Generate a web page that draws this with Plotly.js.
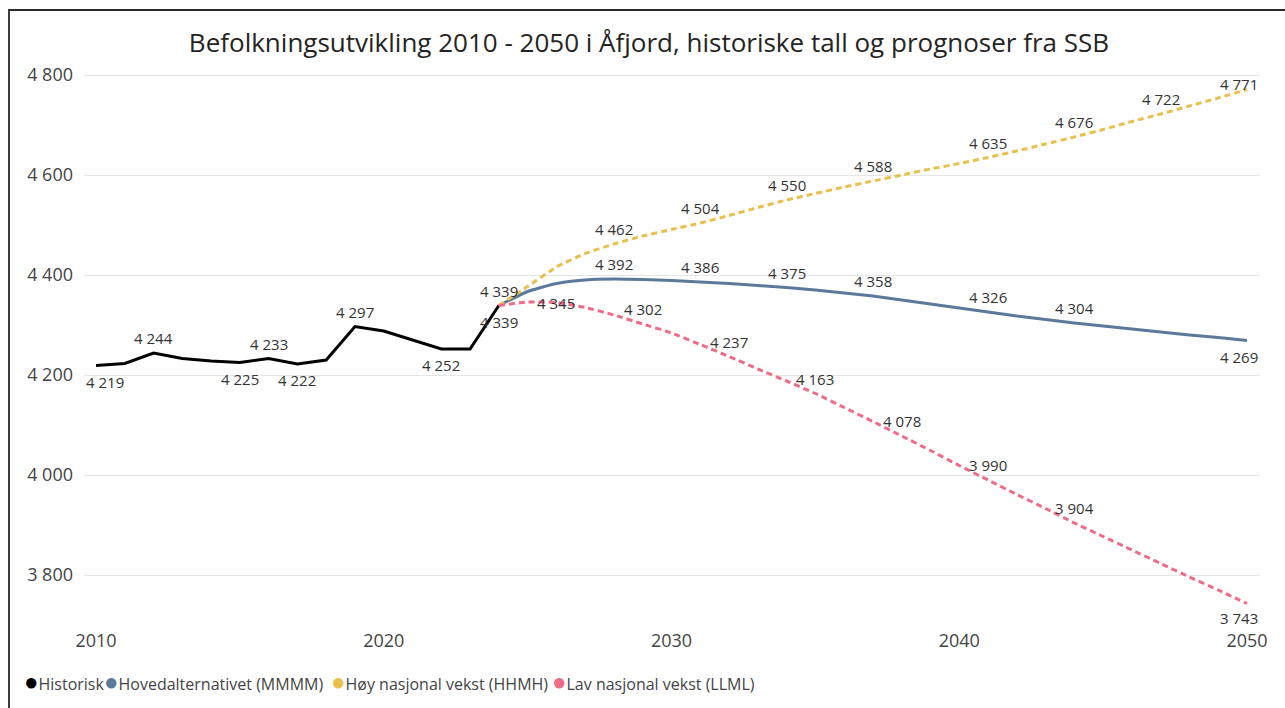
<!DOCTYPE html>
<html>
<head>
<meta charset="utf-8">
<script src="https://cdn.plot.ly/plotly-3.0.1.min.js"></script>
<style>
  html, body { margin: 0; padding: 0; background: #ffffff; }
  #chart { width: 1285px; height: 708px; position: relative; }
  #frame { position: absolute; left: 8px; top: 9px; width: 1300px; height: 720px;
           border-left: 2px solid #3c3c3c; border-top: 2px solid #2a2a2a; pointer-events: none; }
</style>
</head>
<body>
<div id="chart"></div>
<div id="frame"></div>
<script>
// ---- data ----
const titleText = 'Befolkningsutvikling 2010 - 2050 i Åfjord, historiske tall og prognoser fra SSB';
const seriesNames = ['Historisk', 'Hovedalternativet (MMMM)', 'Høy nasjonal vekst (HHMH)', 'Lav nasjonal vekst (LLML)'];

const yearsHist = [2010, 2011, 2012, 2013, 2014, 2015, 2016, 2017, 2018, 2019, 2020, 2021, 2022, 2023, 2024];
const historisk = [4219, 4223, 4244, 4233, 4228, 4225, 4233, 4222, 4230, 4297, 4288, 4270, 4252, 4252, 4339];

const yearsProg = [2024, 2025, 2026, 2027, 2028, 2029, 2030, 2031, 2032, 2033, 2034, 2035, 2036, 2037,
                   2038, 2039, 2040, 2041, 2042, 2043, 2044, 2045, 2046, 2047, 2048, 2049, 2050];
const hovedalt = [4339, 4367, 4383, 4390, 4392, 4391, 4389, 4386, 4383, 4379, 4375, 4370, 4364, 4358,
                  4350, 4342, 4334, 4326, 4318, 4311, 4304, 4298, 4292, 4286, 4280, 4275, 4269];
const hoyVekst = [4339, 4377, 4416, 4443, 4462, 4478, 4491, 4504, 4519, 4535, 4550, 4563, 4576, 4588,
                  4600, 4612, 4623, 4635, 4648, 4662, 4676, 4691, 4707, 4722, 4738, 4754, 4771];
const lavVekst = [4339, 4346, 4345, 4335, 4320, 4302, 4284, 4261, 4237, 4212, 4188, 4163, 4135, 4107,
                  4078, 4049, 4019, 3990, 3961, 3933, 3904, 3877, 3850, 3823, 3796, 3770, 3743];

const yTicks = [3800, 4000, 4200, 4400, 4600, 4800];
const xTicks = [2010, 2020, 2030, 2040, 2050];

// which years carry a data label (placement is styling)
const labelYearsHist = [2010, 2012, 2015, 2016, 2017, 2019, 2022, 2024];
const labelYearsHoved = [2028, 2031, 2034, 2037, 2041, 2044, 2050];
const labelYearsHoy = [2024, 2028, 2031, 2034, 2037, 2041, 2044, 2047, 2050];
const labelYearsLav = [2026, 2029, 2032, 2035, 2038, 2041, 2044, 2050];

// ---- styling ----
const colors = ['#000000', '#5B7A9B', '#E9C04E', '#EF6B87'];
const FONT = '"Open Sans", "Segoe UI", sans-serif';
const fmt = v => String(v).replace(/\B(?=(\d{3})+(?!\d))/g, ' ');

const placeHist = {2010: ['b', 9], 2012: ['t', 0], 2015: ['b', 0], 2016: ['t', 0], 2017: ['b', 0], 2019: ['t', 0], 2022: ['b', 0], 2024: ['b', 0]};
const placeHoved = {2050: ['b', -8]};
const placeHoy = {2050: ['e', -8]};
const placeLav = {2026: ['m', 0], 2050: ['b2', -8]};

function labelAnns(xs, ys, years, place) {
  return years.map(yr => {
    const i = xs.indexOf(yr);
    const p = place[yr] || ['t', 0];
    const ysh = { t: 15, b: -16, b2: -14, e: 6, m: 0 }[p[0]];
    return { x: xs[i], y: ys[i], xref: 'x', yref: 'y', text: fmt(ys[i]), showarrow: false,
             xshift: p[1], yshift: ysh, font: { family: FONT, size: 15, color: '#333333' } };
  });
}

const traces = [
  { x: yearsHist, y: historisk, name: seriesNames[0], mode: 'lines',
    line: { color: colors[0], width: 3 } },
  { x: yearsProg, y: hovedalt, name: seriesNames[1], mode: 'lines',
    line: { color: colors[1], width: 3, shape: 'spline', smoothing: 0.5 } },
  { x: yearsProg, y: hoyVekst, name: seriesNames[2], mode: 'lines',
    line: { color: colors[2], width: 3, dash: '6px,4px', shape: 'spline', smoothing: 0.5 } },
  { x: yearsProg, y: lavVekst, name: seriesNames[3], mode: 'lines',
    line: { color: colors[3], width: 3, dash: '6px,4px', shape: 'spline', smoothing: 0.5 } }
];

let annotations = []
  .concat(labelAnns(yearsHist, historisk, labelYearsHist, placeHist))
  .concat(labelAnns(yearsProg, hovedalt, labelYearsHoved, placeHoved))
  .concat(labelAnns(yearsProg, hoyVekst, labelYearsHoy, placeHoy))
  .concat(labelAnns(yearsProg, lavVekst, labelYearsLav, placeLav));

// legend built as text (matches the compact marker/text spacing of the original)
const L = 84, PW = 1176;
const legendX = [22, 102, 329, 550];
seriesNames.forEach((nm, k) => {
  annotations.push({
    xref: 'paper', yref: 'paper', x: (legendX[k] - L) / PW, y: (708 - 93 - 680) / 550,
    xanchor: 'left', yanchor: 'middle', showarrow: false,
    text: '<span style="color:' + colors[k] + ';font-size:24px">●</span>' + nm,
    font: { family: FONT, size: 16, color: '#444444' }
  });
});

const layout = {
  width: 1285, height: 708,
  margin: { l: L, r: 25, t: 65, b: 93 },
  paper_bgcolor: '#ffffff', plot_bgcolor: '#ffffff',
  showlegend: false,
  title: { text: titleText, x: 649 / 1285, xref: 'container', xanchor: 'center',
           y: 1 - 43 / 708, yref: 'container', yanchor: 'middle',
           font: { family: FONT, size: 26, color: '#252423' } },
  xaxis: { range: [2009.583, 2050.452], tickvals: xTicks, ticktext: xTicks.map(String),
           showgrid: false, zeroline: false, showline: false, ticks: '',
           ticklabelstandoff: 13,
           tickfont: { family: FONT, size: 18, color: '#444444' } },
  yaxis: { range: [3720, 4820], tickvals: yTicks, ticktext: yTicks.map(fmt),
           showgrid: true, gridcolor: '#E6E6E6', gridwidth: 1, zeroline: false, showline: false, ticks: '',
           ticklabelstandoff: 10,
           tickfont: { family: FONT, size: 18, color: '#444444' } },
  annotations: annotations
};

Plotly.newPlot('chart', traces, layout, { displayModeBar: false, staticPlot: true });
</script>
</body>
</html>
